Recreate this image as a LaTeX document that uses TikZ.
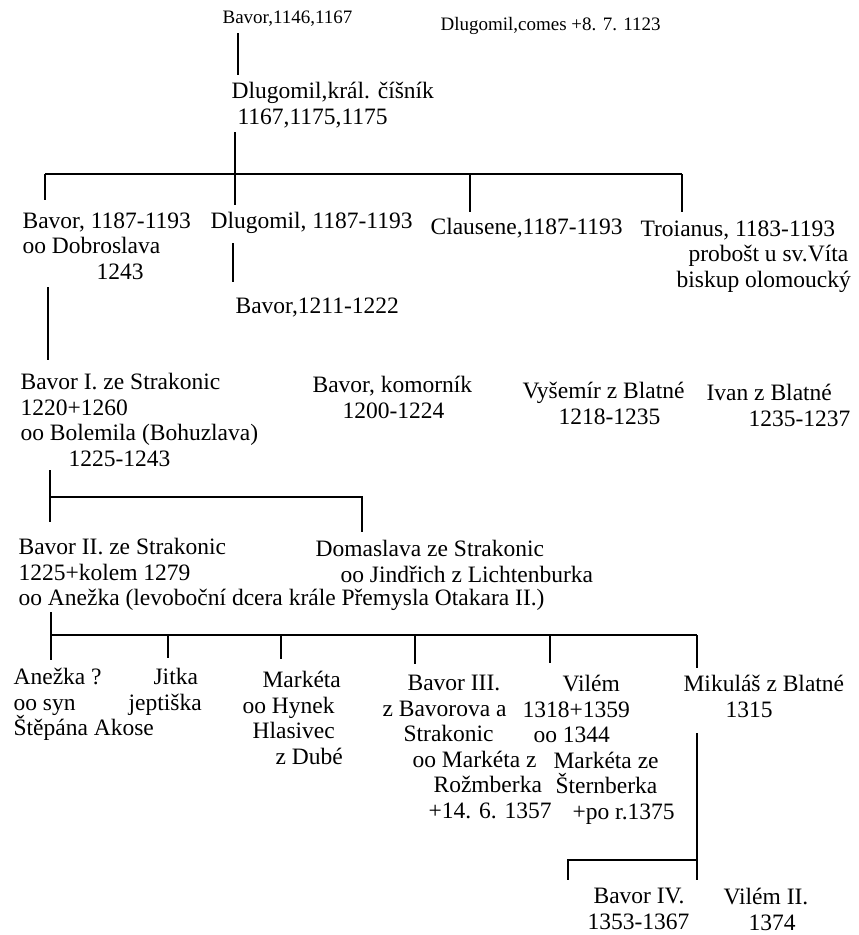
\documentclass[tikz,border=0pt]{standalone}
\usepackage{fontspec}
\setmainfont{Liberation Serif}
\usetikzlibrary{positioning}

\newcommand\mainsize{\fontsize{23.5}{25.5}\selectfont}
\newcommand\notesize{\fontsize{19}{22}\selectfont}

\begin{document}
\begin{tikzpicture}[x=1pt, y=-1pt, line width=1.2pt,
    person/.style={anchor=north west, inner sep=0pt, align=left, font=\mainsize},
    note/.style={anchor=north west, inner sep=0pt, font=\notesize}]
    \useasboundingbox (0,0) rectangle (859,935);

    % oldest
    \node[note] (bavor0) at (222,10) {Bavor,1146,1167};
    \node[note] (dlugcomes) at (440,17) {Dlugomil,comes +8. 7. 1123};
    \node[person] (dlugkral) at (231,82) {Dlugomil,král. číšník\\\hspace*{6pt}1167,1175,1175};
    \draw ([shift={(16,23)}]bavor0.north west) -- ([shift={(7,-7)}]dlugkral.north west);

    % sons of Dlugomil
    \node[person] (bavorA) at (22,212) {Bavor, 1187-1193\\oo Dobroslava\\\hspace*{74pt}1243};
    \node[person] (dlugA) at (210,212) {Dlugomil, 1187-1193};
    \node[person] (clausene) at (430,218) {Clausene,1187-1193};
    \node[person] (troianus) at (640,220) {Troianus, 1183-1193\\\hspace*{48pt}probošt u sv.Víta\\\hspace*{36pt}biskup olomoucký};
    \node[person] (bavorB) at (235,297) {Bavor,1211-1222};

    \coordinate (bar1w) at ([shift={(23,-38)}]bavorA.north west);
    \coordinate (bar1e) at ([shift={(42,-46)}]troianus.north west);
    \draw (bar1w) -- (bar1e);
    \draw ([shift={(4,50)}]dlugkral.north west) -- ([shift={(25,-7)}]dlugA.north west);
    \draw (bar1w) -- ([shift={(23,-12)}]bavorA.north west);
    \draw ([shift={(40,-44)}]clausene.north west) -- ([shift={(40,-6)}]clausene.north west);
    \draw (bar1e) -- ([shift={(42,-8)}]troianus.north west);
    \draw ([shift={(23,31)}]dlugA.north west) -- ([shift={(-2,-15)}]bavorB.north west);

    % third row
    \node[person] (bavorI) at (20,373) {Bavor I. ze Strakonic\\1220+1260\\oo Bolemila (Bohuzlava)\\\hspace*{48pt}1225-1243};
    \node[person] (komornik) at (312,376) {Bavor, komorník\\\hspace*{30pt}1200-1224};
    \node[person] (vysemir) at (522,382) {Vyšemír z Blatné\\\hspace*{36pt}1218-1235};
    \node[person] (ivan) at (706,384) {Ivan z Blatné\\\hspace*{42pt}1235-1237};
    \draw ([shift={(26,75)}]bavorA.north west) -- ([shift={(28,-13)}]bavorI.north west);

    % children of Bavor I.
    \node[person] (bavorII) at (18,538) {Bavor II. ze Strakonic\\1225+kolem 1279\\oo Anežka (levoboční dcera krále Přemysla Otakara II.)};
    \node[person] (domaslava) at (315,540) {Domaslava ze Strakonic\\\hspace*{25pt}oo Jindřich z Lichtenburka};

    \coordinate (bar2w) at ([shift={(32,-41)}]bavorII.north west);
    \coordinate (bar2e) at ([shift={(47,-43)}]domaslava.north west);
    \draw ([shift={(30,97)}]bavorI.north west) -- ([shift={(32,-16)}]bavorII.north west);
    \draw (bar2w) -- (bar2e) -- ([shift={(47,-8)}]domaslava.north west);

    % children of Bavor II.
    \node[person] (anezka) at (13,668) {Anežka ?\\oo syn\\Štěpána Akose};
    \node[person] (jitka) at (128,668) {\hspace*{25pt}Jitka\\jeptiška};
    \node[person] (marketa) at (242,671) {\hspace*{20pt}Markéta\\oo Hynek\\\hspace*{10pt}Hlasivec\\\hspace*{33pt}z Dubé};
    \node[person] (bavorIII) at (382,675) {\hspace*{25pt}Bavor III.\\z Bavorova a\\\hspace*{21pt}Strakonic\\\hspace*{30pt}oo Markéta z\\\hspace*{51pt}Rožmberka\\\hspace*{46pt}+14. 6. 1357};
    \node[person] (vilem) at (522,675) {\hspace*{40pt}Vilém\\1318+1359\\\hspace*{11pt}oo 1344\\\hspace*{31pt}Markéta ze\\\hspace*{33pt}Šternberka\\\hspace*{50pt}+po r.1375};
    \node[person] (mikulas) at (683,675) {Mikuláš z Blatné\\\hspace*{42pt}1315};

    \coordinate (bar3w) at ([shift={(38,-33)}]anezka.north west);
    \coordinate (bar3e) at ([shift={(14,-40)}]mikulas.north west);
    \draw ([shift={(33,74)}]bavorII.north west) -- ([shift={(38,-8)}]anezka.north west);
    \draw (bar3w) -- (bar3e);
    \draw ([shift={(40,-33)}]jitka.north west) -- ([shift={(40,-10)}]jitka.north west);
    \draw ([shift={(39,-36)}]marketa.north west) -- ([shift={(39,-12)}]marketa.north west);
    \draw ([shift={(33,-40)}]bavorIII.north west) -- ([shift={(33,-11)}]bavorIII.north west);
    \draw ([shift={(28,-40)}]vilem.north west) -- ([shift={(28,-12)}]vilem.north west);
    \draw (bar3e) -- ([shift={(14,-7)}]mikulas.north west);

    % sons of Mikulas
    \node[person] (bavorIV) at (587,888) {\hspace*{6pt}Bavor IV.\\1353-1367};
    \node[person] (vilemII) at (723,888) {Vilém II.\\\hspace*{25pt}1374};
    \draw ([shift={(14,58)}]mikulas.north west) -- ([shift={(110,-8)}]bavorIV.north west);
    \draw ([shift={(110,-28)}]bavorIV.north west) -| ([shift={(-19,-8)}]bavorIV.north west);

\end{tikzpicture}
\end{document}
